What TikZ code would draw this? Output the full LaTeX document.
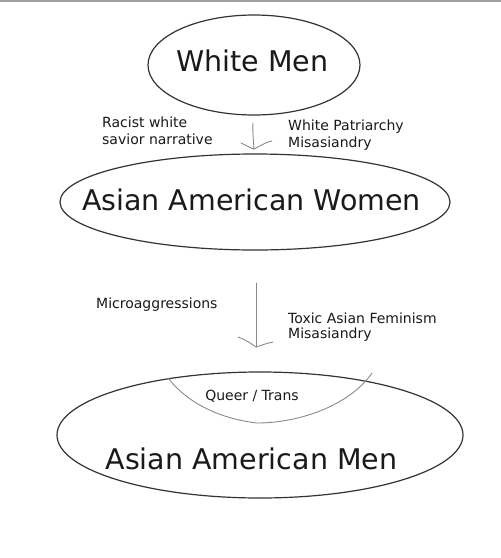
\documentclass[tikz,border=0pt]{standalone}
\usepackage{fontspec}
\setmainfont{DejaVu Sans}
\usetikzlibrary{shapes.geometric}
\definecolor{inkc}{HTML}{1A1A1A}
\definecolor{linec}{HTML}{333333}
\definecolor{handc}{HTML}{8A8A8A}
\tikzset{
  oval/.style={ellipse, draw=linec, line width=1.2pt, inner sep=0pt},
  bigtxt/.style={anchor=base, inner sep=0pt, text=inkc, font=\fontsize{28.5}{34}\selectfont},
  smalltxt/.style={anchor=north west, inner sep=0pt, align=left, text=inkc},
  hand/.style={draw=handc, line width=0.9pt, line cap=round, line join=round},
}
\begin{document}
\begin{tikzpicture}[x=1pt, y=-1pt]
\useasboundingbox (0,0) rectangle (501,558);
\fill[white] (0,0) rectangle (501,558);
\fill[gray!75] (0,0) rectangle (501,2);

% ellipses
\node[oval, minimum width=212pt, minimum height=100pt] (e1) at (254,65) {};
\node[oval, minimum width=390pt, minimum height=96pt] (e2) at (255,202) {};
\node[oval, minimum width=406pt, minimum height=126pt] (e3) at (260,435) {};

% big labels
\node[bigtxt] (t1) at (252.5,71) {White Men};
\node[bigtxt] (t2) at (251.5,210) {Asian American Women};
\node[bigtxt] (t3) at (251.5,469) {Asian American Men};

% side labels
\node[smalltxt, font=\fontsize{14}{17}\selectfont] (l1) at (102,116.5) {Racist white\\savior narrative};
\node[smalltxt, font=\fontsize{14}{17}\selectfont] (r1) at (288,119.5) {White Patriarchy\\Misasiandry};
\node[smalltxt, font=\fontsize{14}{17}\selectfont] (l2) at (96,297.5) {Microaggressions};
\node[smalltxt, font=\fontsize{14}{15}\selectfont] (r2) at (288,312.5) {Toxic Asian Feminism\\Misasiandry};

% hand-drawn arrow 1
\coordinate (a1top) at (253,123);
\coordinate (a1tip) at (254,149);
\coordinate (a1l) at (241,143);
\coordinate (a1r) at (272,141);
\draw[hand] (a1top) .. controls (252.5,132) and (253.5,141) .. (a1tip);
\draw[hand] (a1l) .. controls (246,145) and (250,148) .. (a1tip);
\draw[hand] (a1tip) .. controls (260,146) and (266,142) .. (a1r);

% hand-drawn arrow 2
\coordinate (a2top) at (256,283);
\coordinate (a2tip) at (256,347);
\coordinate (a2l) at (238,337);
\coordinate (a2r) at (273,342);
\draw[hand] (a2top) -- (a2tip);
\draw[hand] (a2l) .. controls (246,340) and (252,344) .. (a2tip);
\draw[hand] (a2tip) .. controls (262,345) and (268,343) .. (a2r);

% queer / trans region
\coordinate (q1) at (168,378);
\coordinate (q2) at (372,373);
\draw[hand] (q1) .. controls (185,400) and (215,418) .. (257,423)
               .. controls (300,423) and (350,405) .. (q2);
\node[anchor=base, inner sep=0pt, text=inkc, font=\fontsize{14}{17}\selectfont] (qt) at (252,400) {Queer / Trans};
\end{tikzpicture}
\end{document}
